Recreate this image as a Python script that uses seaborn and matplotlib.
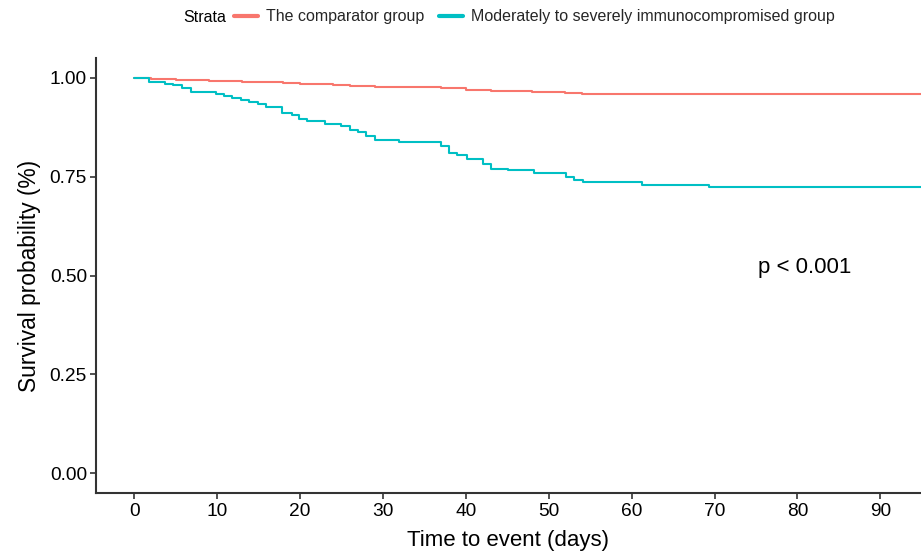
import matplotlib
matplotlib.use("Agg")
import matplotlib.pyplot as plt
import seaborn as sns
import pandas as pd
from matplotlib.lines import Line2D

# ---- data ----
comp_label = "The comparator group"
immu_label = "Moderately to severely immunocompromised group"

comp_time = [0, 2, 5, 9, 13, 18, 20, 24, 26, 29, 37, 40, 43, 48, 52, 54, 61, 69, 95]
comp_surv = [1.000, 0.997, 0.995, 0.993, 0.990, 0.987, 0.985, 0.983, 0.980, 0.978,
             0.974, 0.970, 0.966, 0.964, 0.962, 0.960, 0.959, 0.958, 0.958]

immu_time = [0, 1.8, 3.7, 4.7, 5.8, 6.9, 9.9, 10.9, 11.8, 12.9, 13.9, 14.9, 15.9, 17.8,
             19.0, 19.9, 20.9, 23.0, 25.0, 26.0, 27.0, 28.0, 29.0, 32.0, 37.0, 38.0,
             39.0, 40.1, 42.1, 43.1, 45.1, 48.2, 52.1, 53.1, 54.1, 61.2, 69.3, 95]
immu_surv = [1.000, 0.990, 0.985, 0.981, 0.974, 0.964, 0.959, 0.954, 0.949, 0.944,
             0.939, 0.935, 0.927, 0.912, 0.906, 0.897, 0.892, 0.882, 0.879, 0.869,
             0.863, 0.854, 0.842, 0.837, 0.827, 0.810, 0.805, 0.795, 0.783, 0.770,
             0.766, 0.759, 0.748, 0.742, 0.736, 0.729, 0.723, 0.723]

x_ticks = [0, 10, 20, 30, 40, 50, 60, 70, 80, 90]
y_ticks = [0.00, 0.25, 0.50, 0.75, 1.00]
p_text = "p < 0.001"

df = pd.concat([
    pd.DataFrame({"time": comp_time, "surv": comp_surv, "Strata": comp_label}),
    pd.DataFrame({"time": immu_time, "surv": immu_surv, "Strata": immu_label}),
], ignore_index=True)

palette = {comp_label: "#F8766D", immu_label: "#00BFC4"}

sns.set_theme(style="white")
plt.rcParams["font.family"] = ["Liberation Sans", "DejaVu Sans"]

fig = plt.figure(figsize=(9.21, 5.53), dpi=100)
ax = fig.add_axes([0.1042, 0.1085, 0.8958, 0.7865])

sns.lineplot(data=df, x="time", y="surv", hue="Strata", palette=palette,
             estimator=None, sort=False, drawstyle="steps-post", linewidth=1.5,
             ax=ax, legend=False)

ax.set_xlim(-4.6, 94.9)
ax.set_ylim(-0.05, 1.05)
ax.set_xticks(x_ticks)
ax.set_xticklabels([str(t) for t in x_ticks])
ax.set_yticks(y_ticks)
ax.set_yticklabels([f"{t:.2f}" for t in y_ticks])
ax.tick_params(axis="both", labelsize=13.8, colors="#333333", labelcolor="black",
               length=4, width=1.2, direction="out", bottom=True, left=True)
ax.tick_params(axis="y", pad=2.5)
for s in ["top", "right"]:
    ax.spines[s].set_visible(False)
for s in ["left", "bottom"]:
    ax.spines[s].set_color("#333333")
    ax.spines[s].set_linewidth(1.5)

ax.set_xlabel("Time to event (days)", fontsize=16, color="black", labelpad=7)
ax.set_ylabel("Survival probability (%)", fontsize=16.4, color="black", labelpad=6)

ax.text(75.2, 0.52, p_text, fontsize=16, color="black", va="center", ha="left")

# legend across the top
fig.text(183 / 921, 1 - 17 / 553, "Strata", fontsize=11.5, color="black",
         va="center", ha="left")
handles = [Line2D([0], [0], color=palette[comp_label], lw=3),
           Line2D([0], [0], color=palette[immu_label], lw=3)]
fig.legend(handles, [comp_label, immu_label], loc="center left",
           bbox_to_anchor=(234 / 921, 1 - 17 / 553), ncol=2, frameon=False,
           fontsize=11.5, handlelength=1.5, handletextpad=0.5, columnspacing=0.9,
           borderaxespad=0, borderpad=0)

fig.savefig("out.png", dpi=100)
